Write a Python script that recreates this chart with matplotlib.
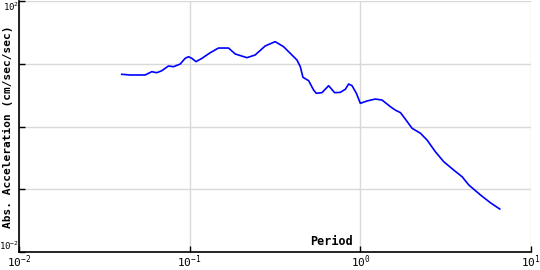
import matplotlib
matplotlib.use("Agg")
import matplotlib.pyplot as plt

period = [0.0400, 0.0448, 0.0513, 0.0548, 0.0600, 0.0642, 0.0687, 0.0751, 0.0804, 0.0880,
          0.0941, 0.0984, 0.103, 0.109, 0.118, 0.132, 0.1475, 0.169, 0.185, 0.2165,
          0.242, 0.277, 0.317, 0.355, 0.388, 0.425, 0.445, 0.461, 0.498, 0.532,
          0.552, 0.596, 0.652, 0.707, 0.763, 0.817, 0.854, 0.894, 0.948, 1.0,
          1.094, 1.224, 1.34, 1.50, 1.60, 1.72, 1.84, 2.01, 2.25, 2.46,
          2.75, 3.08, 3.52, 3.95, 4.32, 5.06, 5.78, 6.56]
accel = [6.79, 6.62, 6.62, 6.62, 7.47, 7.20, 7.75, 9.21, 8.97, 9.9,
         12.2, 12.95, 12.2, 10.8, 12.2, 15.0, 17.8, 17.8, 14.3, 12.5,
         13.8, 19.2, 22.5, 18.7, 14.7, 11.5, 8.97, 6.08, 5.37, 3.82,
         3.38, 3.46, 4.47, 3.46, 3.50, 3.92, 4.76, 4.47, 3.38, 2.34,
         2.55, 2.74, 2.64, 2.07, 1.83, 1.66, 1.30, 0.936, 0.780, 0.609,
         0.397, 0.275, 0.203, 0.158, 0.117, 0.081, 0.061, 0.0484]

xticks = [1e-2, 1e-1, 1e0, 1e1]
xticklabels = ["$10^{-2}$", "$10^{-1}$", "$10^{0}$", "$10^{1}$"]
yticks = [1e-2, 1e-1, 1e0, 1e1, 1e2]
yticklabels = ["$10^{-2}$", "", "", "", "$10^{2}$"]

plt.rcParams['mathtext.fontset'] = 'custom'
plt.rcParams['mathtext.rm'] = 'DejaVu Sans Mono'
plt.rcParams['mathtext.it'] = 'DejaVu Sans Mono'
plt.rcParams['font.family'] = ['DejaVu Sans Mono']

fig = plt.figure(figsize=(5.4, 2.7), dpi=100)
ax = fig.add_axes([19/540, 18/270, 512/540, 251/270])
ax.plot(period, accel, color='#0000ff', lw=1.2)
ax.set_xscale('log')
ax.set_yscale('log')
ax.set_xlim(1e-2, 1e1)
ax.set_ylim(1e-2, 1e2)
ax.set_xticks(xticks)
ax.set_xticklabels(xticklabels, fontsize=8)
ax.set_yticks(yticks)
ax.set_yticklabels(yticklabels, fontsize=6.5)
ax.minorticks_off()
ax.tick_params(direction='in', length=4, width=1)
ax.tick_params(axis='y', pad=0)
ax.tick_params(axis='x', pad=1)
labs = ax.get_yticklabels()
labs[0].set_va('bottom')
labs[-1].set_va('top')
ax.grid(True, color='#d9d9d9', lw=1)
ax.set_axisbelow(True)
for s in ['top', 'right']:
    ax.spines[s].set_visible(False)
for s in ['left', 'bottom']:
    ax.spines[s].set_linewidth(1.2)
ax.text(0.61, 0.04, "Period", transform=ax.transAxes, fontsize=8.5,
        fontweight='bold', ha='center', va='center')
fig.text(8/540, 1 - 127/270, "Abs. Acceleration (cm/sec/sec)", rotation=90, fontsize=8,
         fontweight='bold', ha='center', va='center')
fig.savefig("out.png", dpi=100)
